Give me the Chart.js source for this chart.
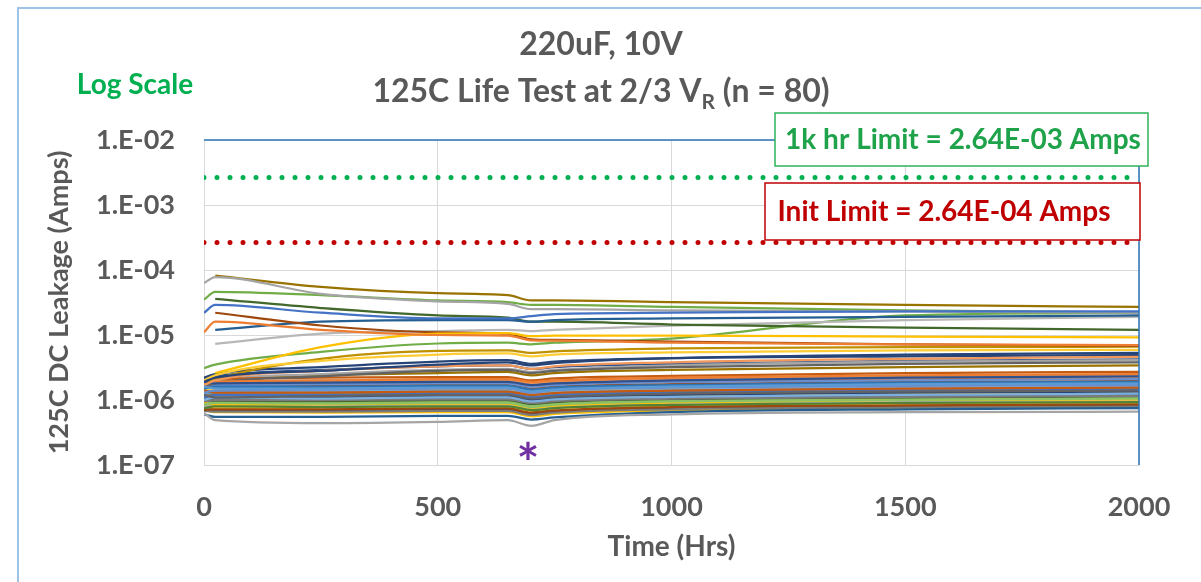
<!DOCTYPE html>
<html>
<head>
<meta charset="utf-8">
<script src="https://cdn.jsdelivr.net/npm/chart.js@4.4.1/dist/chart.umd.min.js"></script>
<style>
  body { margin: 0; background: #fff; }
  #wrap { position: relative; width: 1201px; height: 582px; overflow: hidden; }
  #frame { position: absolute; left: 17px; top: 7px; width: 1300px; height: 700px;
           border: 2px solid #9DC3E6; box-sizing: border-box; pointer-events: none; }
</style>
</head>
<body>
<div id="wrap">
  <canvas id="myChart" width="1201" height="582"></canvas>
  <div id="frame"></div>
</div>
<script>
// test hours
const hours = [0, 24, 250, 500, 650, 700, 750, 1000, 1500, 2000];

// leakage per part (Amps), one row per part, same order as hours
const leakage = [
  [2.2e-5, 2.9e-5, 2.2e-5, 1.8e-5, 1.8e-5, 1.95e-5, 2.1e-5, 2.2e-5, 2.3e-5, 2.3e-5],
  [1.1e-5, 1.6e-5, 1.2e-5, 1.0e-5, 9.8e-6, 8.3e-6, 8.2e-6, 7.6e-6, 7.2e-6, 7.0e-6],
  [6.3e-5, 7.8e-5, 4.3e-5, 3.3e-5, 3.0e-5, 2.5e-5, 2.5e-5, 2.4e-5, 2.3e-5, 2.2e-5],
  [null, 2.6e-6, 6.5e-6, 1.05e-5, 1.07e-5, 9.6e-6, 9.8e-6, 9.8e-6, 9.4e-6, 9.2e-6],
  [1.6e-6, 1.5e-6, 1.5e-6, 1.55e-6, 1.55e-6, 1.35e-6, 1.45e-6, 1.6e-6, 1.75e-6, 1.8e-6],
  [3.5e-5, 4.6e-5, 4.1e-5, 3.4e-5, 3.2e-5, 2.9e-5, 2.9e-5, 2.7e-5, 2.4e-5, 2.2e-5],
  [1.9e-6, 2.2e-6, 2.8e-6, 3.5e-6, 3.8e-6, 3.4e-6, 3.7e-6, 4.4e-6, 5.0e-6, 5.3e-6],
  [null, 2.2e-5, 1.4e-5, 1.1e-5, 1.05e-5, 8.6e-6, 8.4e-6, 7.9e-6, 7.2e-6, 6.8e-6],
  [1.2e-6, 1.1e-6, 1.15e-6, 1.2e-6, 1.2e-6, 1.05e-6, 1.12e-6, 1.25e-6, 1.35e-6, 1.4e-6],
  [null, 8.2e-5, 5.5e-5, 4.4e-5, 4.1e-5, 3.4e-5, 3.4e-5, 3.2e-5, 2.9e-5, 2.7e-5],
  [null, 1.2e-5, 1.6e-5, 1.7e-5, 1.7e-5, 1.6e-5, 1.7e-5, 1.8e-5, 1.9e-5, 2.0e-5],
  [null, 3.6e-5, 2.6e-5, 2.0e-5, 1.85e-5, 1.6e-5, 1.6e-5, 1.45e-5, 1.3e-5, 1.2e-5],
  [1.3e-6, 1.4e-6, 1.45e-6, 1.5e-6, 1.5e-6, 1.3e-6, 1.4e-6, 1.55e-6, 1.65e-6, 1.7e-6],
  [1.7e-6, 2.0e-6, 2.8e-6, 3.3e-6, 3.4e-6, 3.0e-6, 3.3e-6, 3.8e-6, 4.3e-6, 4.6e-6],
  [null, 7.3e-6, 1.05e-5, 1.15e-5, 1.2e-5, 1.15e-5, 1.2e-5, 1.4e-5, 1.7e-5, 1.9e-5],
  [2.0e-6, 2.4e-6, 4.0e-6, 5.0e-6, 5.2e-6, 4.7e-6, 5.0e-6, 5.4e-6, 5.8e-6, 5.9e-6],
  [1.0e-6, 1.1e-6, 1.05e-6, 1.1e-6, 1.1e-6, 9.5e-7, 1.02e-6, 1.12e-6, 1.2e-6, 1.25e-6],
  [8.5e-7, 9.0e-7, 8.8e-7, 9.0e-7, 9.0e-7, 7.8e-7, 8.5e-7, 9.5e-7, 1.0e-6, 1.05e-6],
  [1.9e-6, 1.8e-6, 1.85e-6, 1.9e-6, 1.9e-6, 1.7e-6, 1.8e-6, 2.0e-6, 2.2e-6, 2.3e-6],
  [1.4e-6, 1.3e-6, 1.3e-6, 1.35e-6, 1.35e-6, 1.2e-6, 1.28e-6, 1.4e-6, 1.5e-6, 1.55e-6],
  [9.5e-7, 1.0e-6, 1.0e-6, 1.02e-6, 1.02e-6, 9.0e-7, 9.6e-7, 1.05e-6, 1.12e-6, 1.15e-6],
  [1.8e-6, 2.1e-6, 4.3e-6, 5.7e-6, 5.8e-6, 5.3e-6, 5.6e-6, 6.2e-6, 6.5e-6, 6.6e-6],
  [1.5e-6, 1.6e-6, 1.6e-6, 1.65e-6, 1.65e-6, 1.45e-6, 1.55e-6, 1.7e-6, 1.85e-6, 1.9e-6],
  [7.5e-7, 8.0e-7, 7.8e-7, 8.0e-7, 8.0e-7, 7.0e-7, 7.5e-7, 8.4e-7, 9.0e-7, 9.3e-7],
  [1.1e-6, 1.2e-6, 1.2e-6, 1.25e-6, 1.25e-6, 1.1e-6, 1.18e-6, 1.3e-6, 1.4e-6, 1.45e-6],
  [1.8e-6, 1.9e-6, 2.0e-6, 2.1e-6, 2.1e-6, 1.9e-6, 2.0e-6, 2.2e-6, 2.4e-6, 2.5e-6],
  [6.3e-7, 4.9e-7, 4.4e-7, 4.6e-7, 4.9e-7, 4.0e-7, 4.9e-7, 6.0e-7, 6.5e-7, 6.6e-7],
  [9.0e-7, 8.5e-7, 8.6e-7, 8.8e-7, 8.8e-7, 7.6e-7, 8.2e-7, 9.2e-7, 1.0e-6, 1.02e-6],
  [1.25e-6, 1.3e-6, 1.3e-6, 1.35e-6, 1.35e-6, 1.18e-6, 1.26e-6, 1.38e-6, 1.48e-6, 1.52e-6],
  [3.1e-6, 3.5e-6, 5.5e-6, 7.4e-6, 7.6e-6, 7.2e-6, 7.6e-6, 8.8e-6, 2.0e-5, 2.2e-5],
  [1.0e-6, 1.05e-6, 1.1e-6, 1.15e-6, 1.15e-6, 1.0e-6, 1.08e-6, 1.2e-6, 1.3e-6, 1.35e-6],
  [7.0e-7, 7.2e-7, 7.2e-7, 7.4e-7, 7.4e-7, 6.4e-7, 6.9e-7, 7.8e-7, 8.3e-7, 8.6e-7],
  [1.6e-6, 1.8e-6, 2.3e-6, 2.8e-6, 2.9e-6, 2.6e-6, 2.8e-6, 3.2e-6, 3.6e-6, 3.8e-6],
  [1.3e-6, 1.25e-6, 1.25e-6, 1.28e-6, 1.28e-6, 1.12e-6, 1.2e-6, 1.32e-6, 1.42e-6, 1.48e-6],
  [6.0e-7, 5.5e-7, 5.5e-7, 5.7e-7, 5.7e-7, 5.0e-7, 5.4e-7, 6.5e-7, 7.2e-7, 7.5e-7],
  [1.05e-6, 9.5e-7, 9.6e-7, 1.0e-6, 1.0e-6, 8.7e-7, 9.3e-7, 1.03e-6, 1.1e-6, 1.14e-6],
  [1.7e-6, 1.7e-6, 1.75e-6, 1.8e-6, 1.8e-6, 1.6e-6, 1.7e-6, 1.88e-6, 2.0e-6, 2.1e-6],
  [1.2e-6, 1.15e-6, 1.18e-6, 1.22e-6, 1.22e-6, 1.06e-6, 1.14e-6, 1.26e-6, 1.36e-6, 1.4e-6],
  [8.0e-7, 8.2e-7, 8.2e-7, 8.4e-7, 8.4e-7, 7.3e-7, 7.9e-7, 8.8e-7, 9.4e-7, 9.7e-7],
  [1.5e-6, 1.45e-6, 1.48e-6, 1.5e-6, 1.5e-6, 1.32e-6, 1.42e-6, 1.56e-6, 1.68e-6, 1.72e-6],
  [1.35e-6, 1.4e-6, 1.38e-6, 1.42e-6, 1.42e-6, 1.24e-6, 1.33e-6, 1.47e-6, 1.58e-6, 1.62e-6],
  [9.2e-7, 9.6e-7, 9.4e-7, 9.6e-7, 9.6e-7, 8.3e-7, 9.0e-7, 1.0e-6, 1.07e-6, 1.1e-6],
  [1.1e-6, 1.0e-6, 1.02e-6, 1.05e-6, 1.05e-6, 9.2e-7, 9.8e-7, 1.08e-6, 1.16e-6, 1.2e-6],
  [2.0e-6, 2.1e-6, 2.2e-6, 2.25e-6, 2.25e-6, 2.0e-6, 2.15e-6, 2.35e-6, 2.6e-6, 2.7e-6],
  [6.8e-7, 6.6e-7, 6.6e-7, 6.8e-7, 6.8e-7, 5.9e-7, 6.4e-7, 7.2e-7, 7.7e-7, 8.0e-7],
  [1.15e-6, 1.2e-6, 1.22e-6, 1.25e-6, 1.25e-6, 1.1e-6, 1.18e-6, 1.3e-6, 1.4e-6, 1.44e-6],
  [1.45e-6, 1.5e-6, 1.52e-6, 1.55e-6, 1.55e-6, 1.36e-6, 1.46e-6, 1.62e-6, 1.75e-6, 1.8e-6],
  [8.8e-7, 8.4e-7, 8.5e-7, 8.7e-7, 8.7e-7, 7.6e-7, 8.2e-7, 9.1e-7, 9.8e-7, 1.0e-6],
  [1.25e-6, 1.2e-6, 1.2e-6, 1.22e-6, 1.22e-6, 1.06e-6, 1.14e-6, 1.26e-6, 1.36e-6, 1.4e-6],
  [1.6e-6, 1.7e-6, 1.8e-6, 1.85e-6, 1.85e-6, 1.65e-6, 1.75e-6, 1.92e-6, 2.08e-6, 2.15e-6],
  [1.8e-6, 2.0e-6, 2.5e-6, 2.9e-6, 3.0e-6, 2.7e-6, 2.9e-6, 3.4e-6, 3.9e-6, 4.1e-6],
  [1.05e-6, 1.1e-6, 1.1e-6, 1.12e-6, 1.12e-6, 9.8e-7, 1.05e-6, 1.16e-6, 1.25e-6, 1.3e-6],
  [1.4e-6, 1.35e-6, 1.35e-6, 1.38e-6, 1.38e-6, 1.2e-6, 1.3e-6, 1.43e-6, 1.54e-6, 1.58e-6],
  [9.8e-7, 9.0e-7, 9.2e-7, 9.4e-7, 9.4e-7, 8.2e-7, 8.8e-7, 9.8e-7, 1.05e-6, 1.08e-6],
  [7.2e-7, 7.0e-7, 7.0e-7, 7.1e-7, 7.1e-7, 6.2e-7, 6.7e-7, 7.5e-7, 8.0e-7, 8.3e-7],
  [1.55e-6, 1.6e-6, 1.65e-6, 1.7e-6, 1.7e-6, 1.5e-6, 1.6e-6, 1.76e-6, 1.9e-6, 1.95e-6],
  [1.15e-6, 1.1e-6, 1.08e-6, 1.1e-6, 1.1e-6, 9.6e-7, 1.03e-6, 1.14e-6, 1.22e-6, 1.26e-6],
  [1.9e-6, 2.0e-6, 2.4e-6, 2.6e-6, 2.7e-6, 2.4e-6, 2.6e-6, 2.9e-6, 3.2e-6, 3.4e-6],
  [1.3e-6, 1.35e-6, 1.4e-6, 1.45e-6, 1.45e-6, 1.27e-6, 1.36e-6, 1.5e-6, 1.62e-6, 1.66e-6],
  [8.2e-7, 8.6e-7, 9.0e-7, 9.2e-7, 9.2e-7, 8.0e-7, 8.6e-7, 9.6e-7, 1.03e-6, 1.06e-6],
  [1.05e-6, 1.0e-6, 9.8e-7, 1.0e-6, 1.0e-6, 8.6e-7, 9.3e-7, 1.04e-6, 1.12e-6, 1.15e-6],
  [1.7e-6, 1.8e-6, 1.95e-6, 2.0e-6, 2.0e-6, 1.8e-6, 1.9e-6, 2.1e-6, 2.25e-6, 2.35e-6],
  [1.2e-6, 1.25e-6, 1.28e-6, 1.3e-6, 1.3e-6, 1.14e-6, 1.22e-6, 1.35e-6, 1.46e-6, 1.5e-6],
  [7.8e-7, 7.5e-7, 7.6e-7, 7.8e-7, 7.8e-7, 6.8e-7, 7.4e-7, 8.2e-7, 8.8e-7, 9.1e-7],
  [1.5e-6, 1.55e-6, 1.58e-6, 1.6e-6, 1.6e-6, 1.4e-6, 1.5e-6, 1.66e-6, 1.8e-6, 1.85e-6],
  [1.1e-6, 1.15e-6, 1.15e-6, 1.18e-6, 1.18e-6, 1.03e-6, 1.1e-6, 1.22e-6, 1.32e-6, 1.36e-6],
  [2.1e-6, 2.3e-6, 2.9e-6, 3.3e-6, 3.4e-6, 3.0e-6, 3.2e-6, 3.6e-6, 4.0e-6, 4.2e-6],
  [9.0e-7, 9.4e-7, 9.6e-7, 9.8e-7, 9.8e-7, 8.5e-7, 9.2e-7, 1.02e-6, 1.1e-6, 1.13e-6],
  [1.35e-6, 1.3e-6, 1.32e-6, 1.35e-6, 1.35e-6, 1.18e-6, 1.27e-6, 1.4e-6, 1.5e-6, 1.55e-6],
  [1.0e-6, 1.05e-6, 1.06e-6, 1.08e-6, 1.08e-6, 9.4e-7, 1.01e-6, 1.12e-6, 1.2e-6, 1.24e-6],
  [1.15e-6, 1.2e-6, 1.25e-6, 1.3e-6, 1.3e-6, 1.12e-6, 1.2e-6, 1.34e-6, 1.45e-6, 1.5e-6],
  [1.6e-6, 1.6e-6, 1.62e-6, 1.65e-6, 1.65e-6, 1.45e-6, 1.55e-6, 1.7e-6, 1.84e-6, 1.9e-6],
  [8.5e-7, 8.0e-7, 8.0e-7, 8.2e-7, 8.2e-7, 7.1e-7, 7.7e-7, 8.6e-7, 9.2e-7, 9.5e-7],
  [1.25e-6, 1.3e-6, 1.35e-6, 1.4e-6, 1.4e-6, 1.22e-6, 1.31e-6, 1.45e-6, 1.56e-6, 1.6e-6],
  [1.7e-6, 1.9e-6, 2.0e-6, 2.05e-6, 2.05e-6, 1.82e-6, 1.95e-6, 2.15e-6, 2.3e-6, 2.35e-6],
  [7.0e-7, 6.5e-7, 6.4e-7, 6.5e-7, 6.5e-7, 5.6e-7, 6.1e-7, 6.9e-7, 7.5e-7, 7.8e-7],
  [1.2e-6, 1.25e-6, 1.3e-6, 1.32e-6, 1.32e-6, 1.15e-6, 1.24e-6, 1.37e-6, 1.48e-6, 1.52e-6],
  [1.1e-6, 1.05e-6, 1.04e-6, 1.06e-6, 1.06e-6, 9.2e-7, 9.9e-7, 1.1e-6, 1.18e-6, 1.22e-6],
  [2.2e-6, 2.5e-6, 3.2e-6, 3.9e-6, 4.1e-6, 3.6e-6, 3.9e-6, 4.4e-6, 4.7e-6, 4.9e-6],
  [1.4e-6, 1.45e-6, 1.5e-6, 1.55e-6, 1.55e-6, 1.36e-6, 1.46e-6, 1.6e-6, 1.72e-6, 1.78e-6]
];

// spec limits (Amps)
const limitHours = [0, 2000];
const hourLimit = 2.64e-3;
const initLimit = 2.64e-4;

const yTicks = [1e-7, 1e-6, 1e-5, 1e-4, 1e-3, 1e-2];
const yTickLabels = ['1.E-07', '1.E-06', '1.E-05', '1.E-04', '1.E-03', '1.E-02'];
const xTicks = [0, 500, 1000, 1500, 2000];
const xTickLabels = ['0', '500', '1000', '1500', '2000'];

// excel-ish series palette
const palette = ['#4472C4', '#ED7D31', '#A5A5A5', '#FFC000', '#5B9BD5', '#70AD47',
  '#264478', '#9E480E', '#636363', '#997300', '#255E91', '#43682B',
  '#698ED0', '#F1975A', '#B7B7B7', '#FFCD33', '#7CAFDD', '#8CC168',
  '#2F528F', '#C55A11', '#7B7B7B', '#BF9000', '#2E75B6', '#548235'];

const FONT = 'Lato, "Open Sans", sans-serif';
const GREY = '#595959';

const partSets = leakage.map((row, i) => ({
  data: hours.map((h, j) => ({ x: h, y: row[j] })),
  borderColor: palette[i % palette.length],
  borderWidth: 2.25,
  pointRadius: 0,
  cubicInterpolationMode: 'monotone',
  fill: false
}));

function limitSet(value, color) {
  return {
    data: limitHours.map(h => ({ x: h, y: value })),
    borderColor: color,
    borderWidth: 5,
    borderDash: [0, 13],
    borderCapStyle: 'round',
    pointRadius: 0,
    fill: false
  };
}

const decor = {
  id: 'decor',
  afterDatasetsDraw(chart) {
    const ctx = chart.ctx;
    const a = chart.chartArea;
    ctx.save();
    // blue top / right frame of plot
    ctx.strokeStyle = '#2E75B6';
    ctx.lineWidth = 1.5;
    ctx.beginPath();
    ctx.moveTo(a.left, a.top);
    ctx.lineTo(a.right, a.top);
    ctx.lineTo(a.right, a.bottom);
    ctx.stroke();

    // asterisk near the 700 hr dip
    const sx = chart.scales.x.getPixelForValue(693);
    ctx.fillStyle = '#7030A0';
    ctx.font = 'bold 54px ' + FONT;
    ctx.textAlign = 'center';
    ctx.textBaseline = 'alphabetic';
    ctx.fillText('*', sx, 482);

    // limit boxes
    ctx.textBaseline = 'middle';
    ctx.lineWidth = 1.5;
    ctx.fillStyle = '#fff';
    ctx.strokeStyle = '#2DB35A';
    ctx.fillRect(775, 113, 373, 53);
    ctx.strokeRect(775, 113, 373, 53);
    ctx.fillStyle = '#1FA34A';
    ctx.font = 'bold 28px ' + FONT;
    ctx.fillText('1k hr Limit = 2.64E-03 Amps', 963, 140);

    ctx.fillStyle = '#fff';
    ctx.strokeStyle = '#C00000';
    ctx.fillRect(765, 183, 375, 57);
    ctx.strokeRect(765, 183, 375, 57);
    ctx.fillStyle = '#C00000';
    ctx.fillText('Init Limit = 2.64E-04 Amps', 944, 212);
    ctx.restore();
  },
  afterDraw(chart) {
    const ctx = chart.ctx;
    ctx.save();
    ctx.textBaseline = 'middle';
    ctx.fillStyle = GREY;
    ctx.font = 'bold 32px ' + FONT;
    ctx.textAlign = 'center';
    ctx.fillText('220uF, 10V', 601, 45);

    // second title line with subscript R
    const p1 = '125C Life Test at 2/3 V', p2 = 'R', p3 = ' (n = 80)';
    const w1 = ctx.measureText(p1).width, w3 = ctx.measureText(p3).width;
    ctx.font = 'bold 21px ' + FONT;
    const w2 = ctx.measureText(p2).width;
    let x = 601 - (w1 + w2 + w3) / 2;
    ctx.textAlign = 'left';
    ctx.font = 'bold 32px ' + FONT;
    ctx.fillText(p1, x, 92);
    ctx.font = 'bold 21px ' + FONT;
    ctx.fillText(p2, x + w1, 102);
    ctx.font = 'bold 32px ' + FONT;
    ctx.fillText(p3, x + w1 + w2, 92);

    ctx.fillStyle = '#00B050';
    ctx.font = 'bold 28px ' + FONT;
    ctx.textAlign = 'center';
    ctx.fillText('Log Scale', 135, 85);
    ctx.restore();
  }
};

const ctx = document.getElementById('myChart').getContext('2d');
const myChart = new Chart(ctx, {
  type: 'line',
  data: {
    datasets: partSets.concat([
      limitSet(hourLimit, '#00B050'),
      limitSet(initLimit, '#C00000')
    ])
  },
  plugins: [decor],
  options: {
    responsive: false,
    animation: false,
    devicePixelRatio: 1,
    layout: { padding: { left: 0, top: 140, right: 62, bottom: 0 } },
    plugins: {
      legend: { display: false },
      tooltip: { enabled: false }
    },
    scales: {
      x: {
        type: 'linear',
        min: 0,
        max: 2000,
        afterBuildTicks: s => { s.ticks = xTicks.map(v => ({ value: v })); },
        afterFit: s => { s.height = 117; },
        ticks: {
          autoSkip: false,
          maxRotation: 0,
          padding: 26,
          color: GREY,
          font: { family: FONT, size: 27, weight: 'bold' },
          callback: (v, i) => xTickLabels[i]
        },
        grid: { color: '#D9D9D9', drawTicks: false },
        border: { color: '#D9D9D9' },
        title: {
          display: true,
          text: 'Time (Hrs)',
          color: GREY,
          font: { family: FONT, size: 28, weight: 'bold' },
          padding: { top: 0, bottom: 18 }
        }
      },
      y: {
        type: 'logarithmic',
        min: 1e-7,
        max: 1e-2,
        afterBuildTicks: s => { s.ticks = yTicks.map(v => ({ value: v })); },
        afterFit: s => { s.width = 204; },
        ticks: {
          autoSkip: false,
          padding: 29,
          color: GREY,
          font: { family: FONT, size: 27, weight: 'bold' },
          callback: (v, i) => yTickLabels[i]
        },
        grid: { color: '#D9D9D9', drawTicks: false },
        border: { color: '#D9D9D9' },
        title: {
          display: true,
          text: '125C DC Leakage (Amps)',
          color: GREY,
          font: { family: FONT, size: 27, weight: 'bold' },
          padding: { top: 43, bottom: 0 }
        }
      }
    }
  }
});
</script>
</body>
</html>
